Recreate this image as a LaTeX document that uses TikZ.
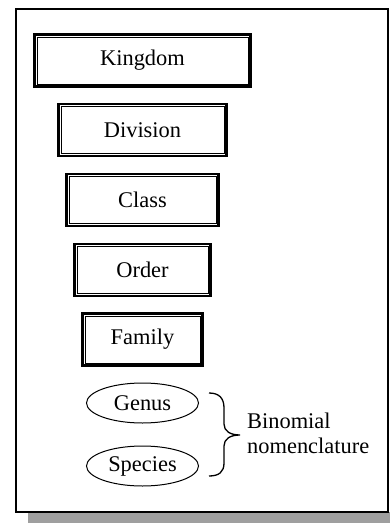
\documentclass[tikz,border=0pt]{standalone}
\usepackage{fontspec}
\setmainfont{Liberation Serif}
\usetikzlibrary{shapes.geometric}
\begin{document}
\begin{tikzpicture}[x=1bp,y=-1bp,
  rank/.style={draw,line width=2.6bp,minimum width=#1,minimum height=52bp,inner sep=0pt,
    font=\fontsize{22.5}{26}\selectfont},
  taxon/.style={draw,ellipse,line width=1bp,minimum width=112bp,minimum height=40bp,inner sep=0pt,
    font=\fontsize{22.5}{26}\selectfont},
  innerline/.style={line width=0.9bp}]
\useasboundingbox (0,0) rectangle (389,523);
% shadow and frame
\fill[gray!75] (28,512) rectangle (395,523);
\draw[line width=2bp,fill=white] (16,9) rectangle (388,512);
% ranks
\node[rank=216bp] (k) at (142.5,60.5) {Kingdom};
\node[rank=168bp] (d) at (142.5,130) {Division};
\node[rank=152bp] (c) at (142.5,200) {Class};
\node[rank=136bp] (o) at (142.5,270) {Order};
\node[rank=120bp] (f) at (142.5,339.5) {Family};
\foreach \n in {k,d,c,o,f}{
  \draw[innerline] ([shift={(3.8bp,3.8bp)}]\n.south west) rectangle ([shift={(-3.8bp,-3.8bp)}]\n.north east);
}
% genus & species
\node[taxon] (g) at (142.5,403) {Genus};
\node[taxon] (s) at (142.5,466) {Species};
% brace
\coordinate (bt) at (209,393);
\coordinate (bb) at (209,476);
\coordinate (tip) at (240,435);
\draw[line width=1.3bp] (bt) .. controls (219,393) and (224,398) .. (224,408) -- (224,424)
  .. controls (224,431) and (230,435) .. (tip)
  .. controls (230,435) and (224,439) .. (224,446) -- (224,463)
  .. controls (224,472) and (219,476) .. (bb);
\node[anchor=west,align=left,inner sep=0pt,font=\fontsize{22.5}{25}\selectfont] (bn) at (247,433) {Binomial\\nomenclature};
\end{tikzpicture}
\end{document}
